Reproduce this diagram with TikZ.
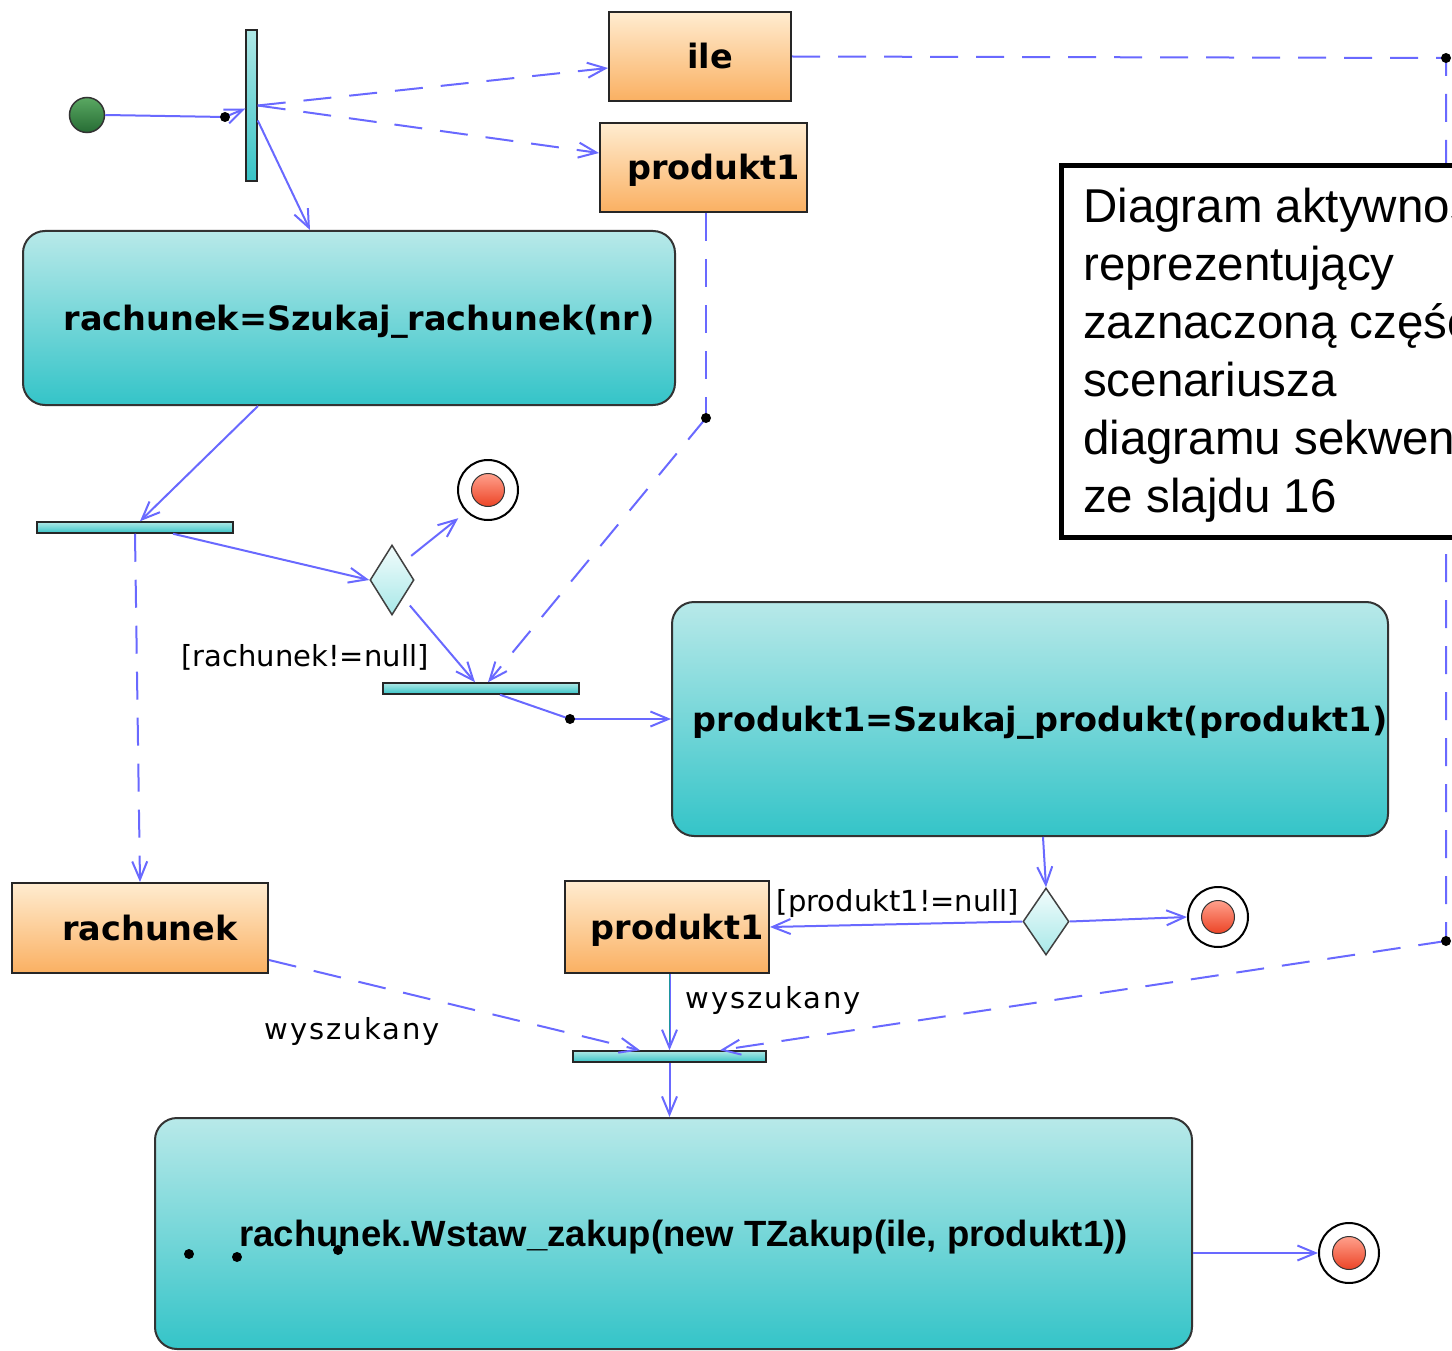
\documentclass[tikz,border=0pt]{standalone}
\usepackage{fontspec}
\usetikzlibrary{arrows.meta,shapes.geometric,shadings,calc}
\newfontfamily\actfamily{DejaVu Sans}
\newfontfamily\labfamily{DejaVu Sans}
\newfontfamily\arialfamily{Liberation Sans}
\definecolor{lineblue}{RGB}{105,105,255}
\definecolor{tealtop}{RGB}{184,233,233}
\definecolor{tealbot}{RGB}{52,196,200}
\definecolor{orangetop}{RGB}{255,236,208}
\definecolor{orangebot}{RGB}{250,176,98}
\definecolor{bartop}{RGB}{175,232,230}
\definecolor{barbot}{RGB}{55,195,198}
\definecolor{diatop}{RGB}{242,252,252}
\definecolor{diabot}{RGB}{168,232,232}
\definecolor{redtop}{RGB}{255,160,140}
\definecolor{redbot}{RGB}{236,68,38}
\definecolor{greentop}{RGB}{90,168,98}
\definecolor{greenbot}{RGB}{38,108,52}
\definecolor{tealline}{RGB}{30,150,160}
\tikzset{
  flow/.style={draw=lineblue, line width=2pt, -{Straight Barb[length=18pt,width=15pt,line width=2pt]}},
  dflow/.style={flow, dash pattern=on 28pt off 18pt},
  dline/.style={draw=lineblue, line width=2pt, dash pattern=on 28pt off 18pt},
  action/.style={draw=black!80, line width=2pt, rounded corners=22pt, top color=tealtop, bottom color=tealbot, inner sep=0pt,
    text height=25pt, text depth=0pt,
    font=\actfamily\bfseries\fontsize{33.5}{40}\selectfont, execute at begin node={\hspace*{20pt}}},
  objbox/.style={draw=black!85, line width=2pt, top color=orangetop, bottom color=orangebot, inner sep=0pt,
    text height=25pt, text depth=0pt,
    font=\actfamily\bfseries\fontsize{33.5}{40}\selectfont, execute at begin node={\hspace*{20pt}}},
  syncbar/.style={draw=black!85, line width=1.5pt, top color=bartop, bottom color=barbot, inner sep=0pt},
  decision/.style={diamond, draw=black!75, line width=1.5pt, top color=diatop, bottom color=diabot, inner sep=0pt},
  finouter/.style={circle, draw=black, line width=2pt, fill=white, minimum size=60pt, inner sep=0pt},
  fininner/.style={circle, draw=black!80, line width=1pt, top color=redtop, bottom color=redbot, minimum size=33pt, inner sep=0pt},
  startnode/.style={circle, draw=black!80, line width=1.5pt, top color=greentop, bottom color=greenbot, minimum size=35pt, inner sep=0pt},
  glabel/.style={font=\labfamily\fontsize{29}{34}\selectfont, inner sep=0pt},
  wlabel/.style={font=\labfamily\fontsize{29}{34}\selectfont\addfontfeature{LetterSpace=7}, inner sep=0pt},
  cpoint/.style={circle, fill=black, minimum size=10pt, inner sep=0pt},
}
\begin{document}
\begin{tikzpicture}[x=1pt,y=-1pt]
\useasboundingbox (0,0) rectangle (1452,1351);

% nodes
\node[startnode] (start) at (87,115) {};
\node[syncbar, minimum width=11pt, minimum height=151pt] (fork1) at (251.5,105.5) {};
\node[objbox, minimum width=182pt, minimum height=89pt] (ile) at (700,56.5) {ile};
\node[objbox, minimum width=207pt, minimum height=89pt] (prodTop) at (703.5,167.5) {produkt1};
\node[action, minimum width=652pt, minimum height=174pt] (act1) at (349,318) {rachunek=Szukaj\_rachunek(nr)};
\node[syncbar, minimum width=196pt, minimum height=11pt] (bar2) at (135,527.5) {};
\node[decision, minimum width=44pt, minimum height=70pt] (dia1) at (392,580) {};
\node[finouter] (fin1) at (488,490) {};
\node[fininner] (fin1i) at (fin1) {};
\node[syncbar, minimum width=196pt, minimum height=11pt] (bar3) at (481,688.5) {};
\node[action, minimum width=716pt, minimum height=234pt] (act2) at (1030,719) {produkt1=Szukaj\_produkt(produkt1)};
\node[decision, minimum width=46pt, minimum height=67pt] (dia2) at (1046,921.5) {};
\node[finouter] (fin2) at (1218,917) {};
\node[fininner] (fin2i) at (fin2) {};
\node[objbox, minimum width=204pt, minimum height=92pt] (prodB) at (667,927) {produkt1};
\node[objbox, minimum width=256pt, minimum height=90pt] (rach) at (140,928) {rachunek};
\node[syncbar, minimum width=193pt, minimum height=11pt] (bar4) at (669.5,1056.5) {};
\node[action, minimum width=1037pt, minimum height=231pt,
  font=\arialfamily\bfseries\fontsize{36.5}{42}\selectfont] (act3) at (673.5,1233.5) {rachunek.Wstaw\_zakup(new TZakup(ile, produkt1))};
\node[finouter] (fin3) at (1349,1253) {};
\node[fininner] (fin3i) at (fin3) {};

% bend points
\coordinate (c0) at (225,117);
\coordinate (c1) at (706,418);
\coordinate (c2) at (570,719);
\coordinate (c3) at (1446,58);
\coordinate (c4) at (1446,941);

% connectors
\draw[draw=lineblue, line width=2pt] (start.east) -- (c0);
\draw[flow] (c0) -- ([yshift=-3pt]fork1.west);
\draw[dflow] ([yshift=0pt]fork1.east) -- ([yshift=-11.5pt]ile.west);
\draw[dflow] ([yshift=0pt]fork1.east) -- ([yshift=14.5pt]prodTop.west);
\draw[flow] ([yshift=-15pt]fork1.east) -- ([xshift=-39pt]act1.north);
\draw[flow] ([xshift=-91pt]act1.south) -- ([xshift=5pt]bar2.north);
\draw[flow] ([xshift=38pt]bar2.south) -- (dia1.west);
\draw[flow, shorten <=10pt, shorten >=10pt] (dia1.north east) -- (fin1.south west);
\draw[flow, shorten <=10pt] (dia1.south east) -- ([xshift=-6pt]bar3.north);
\draw[dline] (c1 |- prodTop.south) -- (c1);
\draw[dflow] (c1) -- ([xshift=7pt]bar3.north);
\draw[dflow] (bar2.south) -- (rach.north);
\draw[draw=lineblue, line width=2pt] ([xshift=19pt]bar3.south) -- (c2);
\draw[flow] (c2) -- (act2.west);
\draw[flow] ([xshift=13pt]act2.south) -- (dia2.north);
\draw[flow] (dia2.east) -- (fin2.west);
\draw[flow] (dia2.west) -- (prodB.east);
\draw[flow] (prodB.south -| bar4.north) -- (bar4.north);
\draw[draw=tealline, line width=1.2pt] (prodB.south -| bar4.north) -- ([yshift=8pt]bar4.north);
\draw[dflow] ([yshift=-32pt]rach.east) -- ([xshift=-29.5pt]bar4.north);
\draw[dline] (ile.east) -- (c3) -- (c4);
\draw[dflow] (c4) -- ([xshift=50.5pt]bar4.north);
\draw[flow] (bar4.south) -- (bar4.south |- act3.north);
\draw[flow] (act3.east |- fin3) -- (fin3.west);

% guard and flow labels
\node[glabel] (g1) at (305,657) {[rachunek!=null]};
\node[glabel] (g2) at (898,903) {[produkt1!=null]};
\node[wlabel] (w1) at (352,1031) {wyszukany};
\node[wlabel] (w2) at (773,1000) {wyszukany};

% small black control marks
\node[cpoint] (m1) at (c0) {};
\node[cpoint] (m2) at (c1) {};
\node[cpoint] (m3) at (c2) {};
\node[cpoint] (m4) at (c3) {};
\node[cpoint] (m5) at (c4) {};
\node[cpoint] (m6) at (189,1254) {};
\node[cpoint] (m7) at (237,1257) {};
\node[cpoint] (m8) at (338,1250) {};

% note
\begin{scope}
\clip (1000,140) rectangle (1452,570);
\draw[line width=5pt, fill=white] (1061,165.5) rectangle (1480,537);
\node[anchor=north west, inner sep=0pt, align=left,
  font=\arialfamily\fontsize{47.5}{58}\selectfont] (note) at (1083,187.5)
  {Diagram aktywności\\reprezentujący\\zaznaczoną część\\scenariusza\\diagramu sekwencji\\ze slajdu 16};
\end{scope}
\end{tikzpicture}
\end{document}
